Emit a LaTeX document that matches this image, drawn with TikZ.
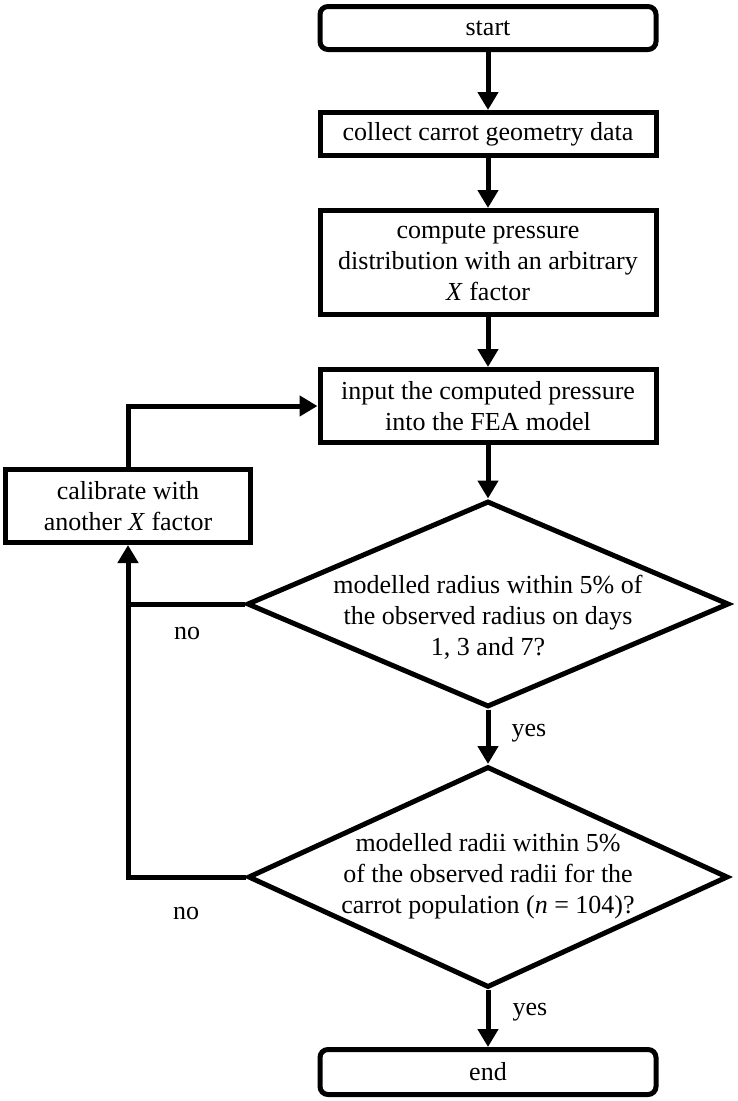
\documentclass[tikz,border=0pt]{standalone}
\usepackage{fontspec}
\setmainfont{Liberation Serif}
\usetikzlibrary{arrows.meta,shapes.geometric}
\begin{document}
\begin{tikzpicture}[x=1pt,y=-1pt,
  every node/.style={font=\fontsize{26}{31}\selectfont},
  proc/.style={draw,line width=5pt,minimum width=336pt,inner sep=0pt,align=center},
  term/.style={proc,rounded corners=8pt,minimum height=43pt},
  dia/.style={draw,line width=5pt,diamond,inner sep=0pt},
  txt/.style={align=center,inner sep=0pt},
  lbl/.style={inner sep=0pt},
  arr/.style={line width=5pt,-{Triangle[length=18pt,width=20pt]}},
  ln/.style={line width=5pt}]
\useasboundingbox (0,0) rectangle (737,1101);
\node[term] (start) at (488,28) {start};
\node[proc,minimum height=43pt] (collect) at (488,134) {collect carrot geometry data};
\node[proc,minimum height=104pt] (compute) at (488,262.5) {compute pressure\\distribution with an arbitrary\\\textit{X} factor};
\node[proc,minimum height=73pt] (input) at (488,406) {input the computed pressure\\into the FEA model};
\node[proc,minimum width=245pt,minimum height=73pt] (cal) at (128,506) {calibrate with\\another \textit{X} factor};
\node[dia,minimum width=482pt,minimum height=206pt] (d1) at (488,604) {};
\node[txt] (d1t) at (488,617) {modelled radius within 5\% of\\the observed radius on days\\1, 3 and 7?};
\node[dia,minimum width=480pt,minimum height=221pt] (d2) at (488,877) {};
\node[txt] (d2t) at (488,876) {modelled radii within 5\%\\of the observed radii for the\\carrot population (\textit{n} = 104)?};
\node[term,minimum height=45pt] (end) at (488,1072) {end};
\coordinate (j) at (cal.south |- d1.west);
\draw[arr] (start) -- (collect);
\draw[arr] (collect) -- (compute);
\draw[arr] (compute) -- (input);
\draw[arr] (input) -- (d1.north);
\draw[arr] (d1.south) -- (d2.north);
\draw[arr] (d2.south) -- (end);
\draw[arr] (d1.west) -| (cal.south);
\draw[ln] (d2.west) -| (j);
\draw[arr] (cal.north) |- (input.west);
\node[lbl] (no1) at (187,633) {no};
\node[lbl] (yes1) at (529,733) {yes};
\node[lbl] (no2) at (186,913) {no};
\node[lbl] (yes2) at (530,1012) {yes};
\end{tikzpicture}
\end{document}
